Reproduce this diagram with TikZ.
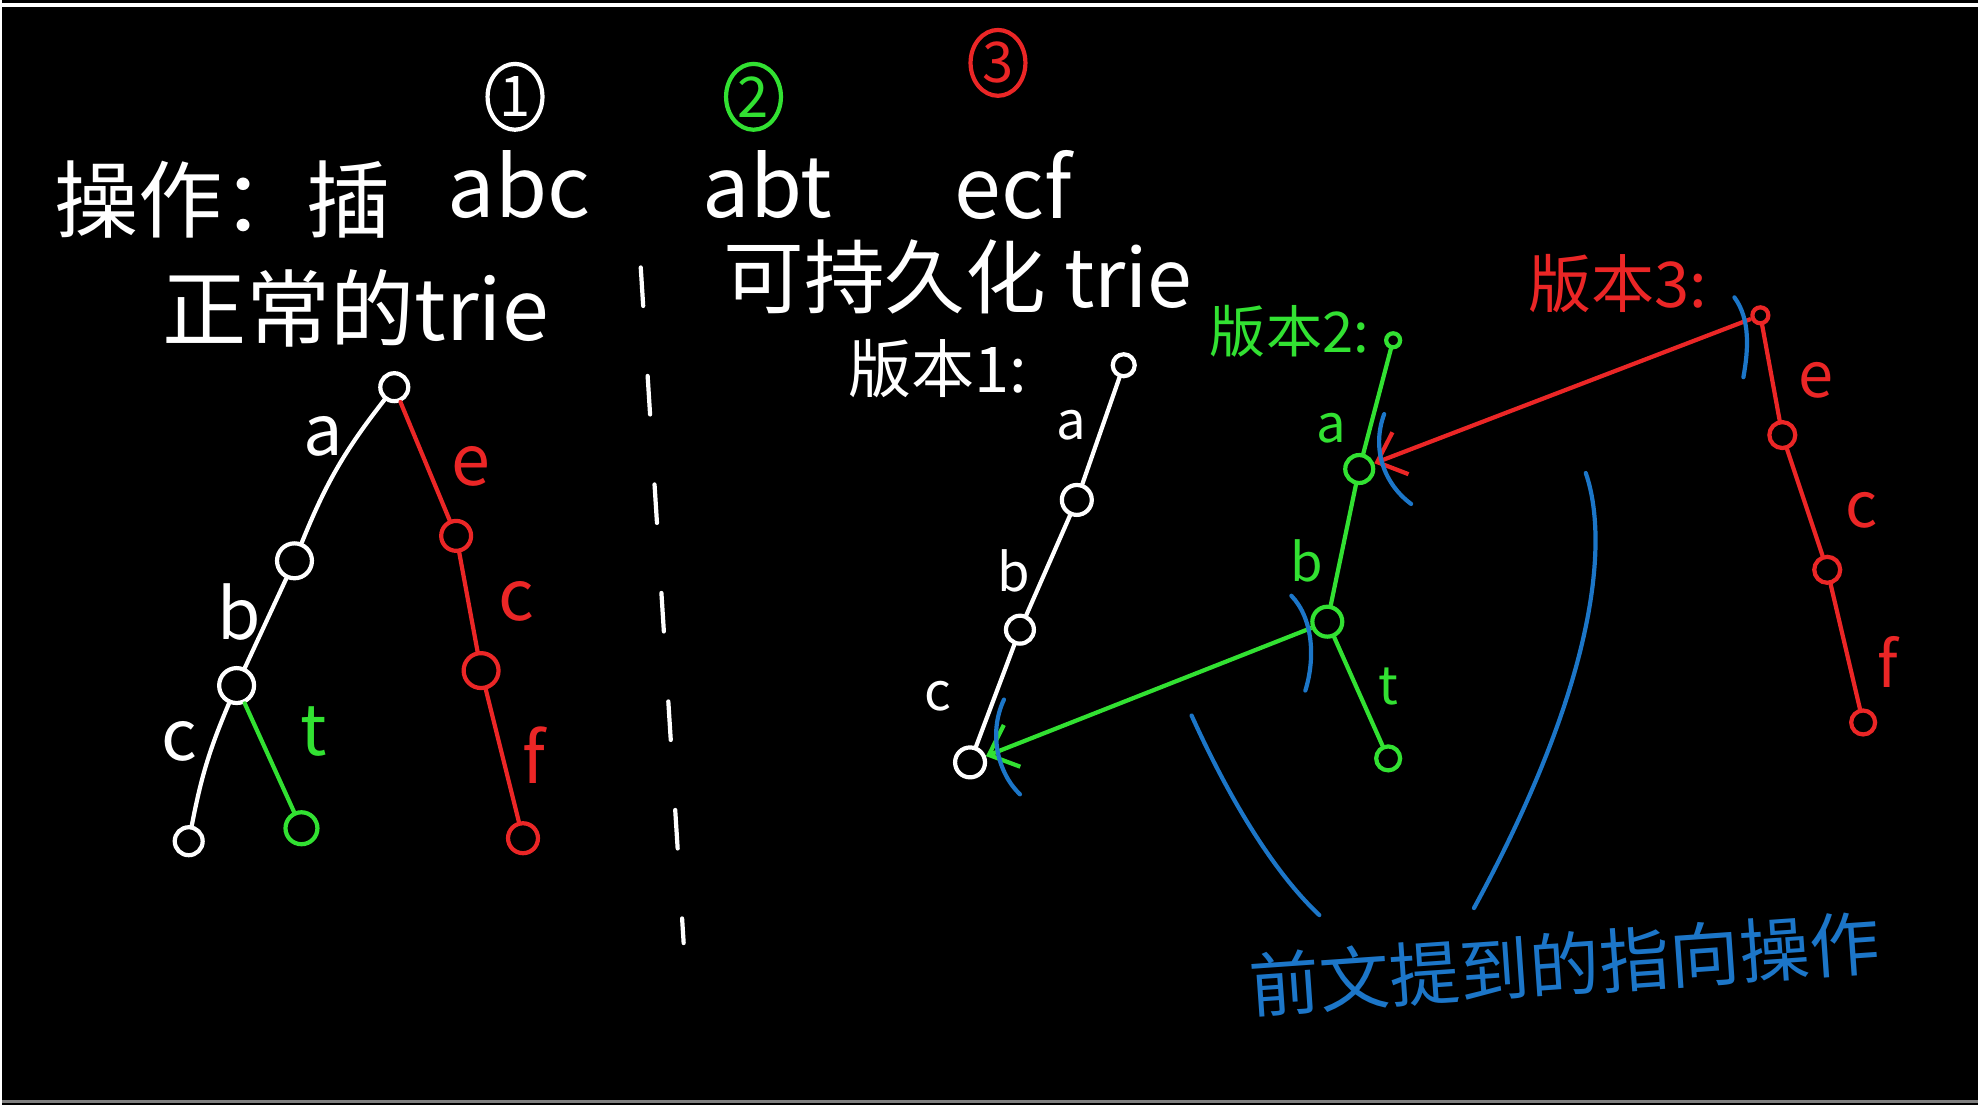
\documentclass[tikz,border=0pt]{standalone}
\usepackage{fontspec}
\setmainfont{Noto Sans CJK SC}
\usetikzlibrary{arrows.meta,shapes.geometric}
\definecolor{pgreen}{RGB}{50,225,50}
\definecolor{pred}{RGB}{235,38,38}
\definecolor{pblue}{RGB}{28,118,200}
\begin{document}
\begin{tikzpicture}[x=0.1mm,y=-0.1mm,
  every node/.style={inner sep=0pt},
  tnode/.style={draw,circle,line width=1.2pt,minimum size=#1},
  tnode/.default=3mm,
  pen/.style={line width=1.2pt,line cap=round},
  bigtext/.style={font=\fontsize{24}{28}\selectfont},
  midtext/.style={font=\fontsize{18}{22}\selectfont},
  lbltext/.style={font=\fontsize{20}{24}\selectfont},
  smalltext/.style={font=\fontsize{15}{18}\selectfont},
  num/.style={draw,ellipse,line width=1.2pt,minimum width=5.5mm,minimum height=6.6mm,font=\fontsize{16}{18}\selectfont},
  cut/.style={pblue,line width=1.2pt,line cap=round},
  ptr/.style={line width=1.2pt,-{Straight Barb[length=2.5mm,width=4.5mm]}}]

\fill[black] (0,0) rectangle (1980,1107);
\draw[white,line width=1.2pt] (0,5) -- (1980,5);
\draw[gray,line width=1pt] (0,1104) -- (1980,1104);

% header
\node[num,white] (n1) at (514,97) {1};
\node[num,pgreen] (n2) at (753,97) {2};
\node[num,pred] (n3) at (998,63) {3};
\node[bigtext,white] (op) at (221,200) {操作：插};
\node[bigtext,white] (s1) at (518,185) {abc};
\node[bigtext,white] (s2) at (767,185) {abt};
\node[bigtext,white] (s3) at (1013,185) {ecf};
\node[bigtext,white] (plain) at (354,309) {正常的trie};
\node[bigtext,white,font=\fontsize{23}{27}\selectfont] (pers) at (958,278) {可持久化 trie};
\node[midtext,white] (ver1) at (938,369) {版本1:};
\node[pgreen,font=\fontsize{16}{20}\selectfont] (ver2) at (1290,332) {版本2:};
\node[midtext,pred] (ver3) at (1619,284) {版本3:};

\coordinate (dtop) at (640,268);
\coordinate (dbot) at (683,945);
\draw[white,pen,dash pattern=on 11pt off 20pt] (dtop) -- (dbot);

% normal trie
\node[tnode=2.8mm,white] (r0) at (393,388) {};
\node[tnode=3.5mm,white] (a0) at (293,562) {};
\node[tnode=3.5mm,white] (b0) at (235,687) {};
\node[tnode=2.8mm,white] (c0) at (187,843) {};
\node[tnode=3.2mm,pgreen] (t0) at (300,830) {};
\node[tnode=3mm,pred] (e0) at (455,537) {};
\node[tnode=3.5mm,pred] (ec0) at (480,672) {};
\node[tnode=3mm,pred] (f0) at (522,840) {};

\draw[pen,white] (r0) to[bend right=8] (a0);
\draw[pen,white] (a0) -- (b0);
\draw[pen,white] (b0) to[bend right=6] (c0);
\draw[pen,pgreen] (b0) -- (t0);
\draw[pen,pred] (r0) -- (e0);
\draw[pen,pred] (e0) -- (ec0);
\draw[pen,pred] (ec0) -- (f0);

\node[lbltext,white] (la0) at (322,437) {a};
\node[lbltext,white] (lb0) at (238,613) {b};
\node[lbltext,white] (lc0) at (178,743) {c};
\node[lbltext,pgreen] (lt0) at (312,733) {t};
\node[lbltext,pred] (le0) at (470,467) {e};
\node[lbltext,pred] (lec0) at (515,603) {c};
\node[lbltext,pred] (lf0) at (533,757) {f};

% version 1
\node[tnode=2.2mm,white] (r1) at (1124,366) {};
\node[tnode=3mm,white] (a1) at (1077,501) {};
\node[tnode=2.8mm,white] (b1) at (1020,631) {};
\node[tnode=3mm,white] (c1) at (970,764) {};
\draw[pen,white] (r1) -- (a1);
\draw[pen,white] (a1) -- (b1);
\draw[pen,white] (b1) -- (c1);
\node[smalltext,white] (la1) at (1071,426) {a};
\node[smalltext,white] (lb1) at (1014,572) {b};
\node[smalltext,white] (lc1) at (938,698) {c};

% version 2
\node[tnode=1.4mm,pgreen] (r2) at (1394,341) {};
\node[tnode=2.8mm,pgreen] (a2) at (1360,470) {};
\node[tnode=3mm,pgreen] (b2) at (1328,623) {};
\node[tnode=2.4mm,pgreen] (t2) at (1389,760) {};
\draw[pen,pgreen] (r2) -- (a2);
\draw[pen,pgreen] (a2) -- (b2);
\draw[pen,pgreen] (b2) -- (t2);
\node[smalltext,pgreen] (la2) at (1332,429) {a};
\node[smalltext,pgreen] (lb2) at (1307,562) {b};
\node[smalltext,pgreen] (lt2) at (1389,688) {t};

% version 3
\node[tnode=1.6mm,pred] (r3) at (1762,316) {};
\node[tnode=2.6mm,pred] (e3) at (1784,436) {};
\node[tnode=2.6mm,pred] (c3) at (1829,571) {};
\node[tnode=2.4mm,pred] (f3) at (1865,724) {};
\draw[pen,pred] (r3) -- (e3);
\draw[pen,pred] (e3) -- (c3);
\draw[pen,pred] (c3) -- (f3);
\node[midtext,pred] (le3) at (1818,381) {e};
\node[midtext,pred] (lc3) at (1863,511) {c};
\node[midtext,pred] (lf3) at (1890,663) {f};

% pointers
\draw[ptr,pgreen] (b2) -- (c1);
\draw[ptr,pred] (r3) -- (a2);

\draw[cut] (1004,701) .. controls (988,735) and (998,775) .. (1020,796);
\draw[cut] (1292,597) .. controls (1314,620) and (1316,660) .. (1306,692);
\draw[cut] (1385,415) .. controls (1372,450) and (1385,485) .. (1412,505);
\draw[cut] (1736,298) .. controls (1752,320) and (1750,350) .. (1745,378);

% note
\node[lbltext,pblue,rotate=4] (note) at (1566,966) {前文提到的指向操作};
\coordinate (ltop) at (1192,717);
\coordinate (rtop) at (1587,474);
\draw[cut] (ltop) .. controls (1225,790) and (1270,870) .. (1320,917);
\draw[cut] (rtop) .. controls (1610,540) and (1600,680) .. (1475,910);
\end{tikzpicture}
\end{document}
